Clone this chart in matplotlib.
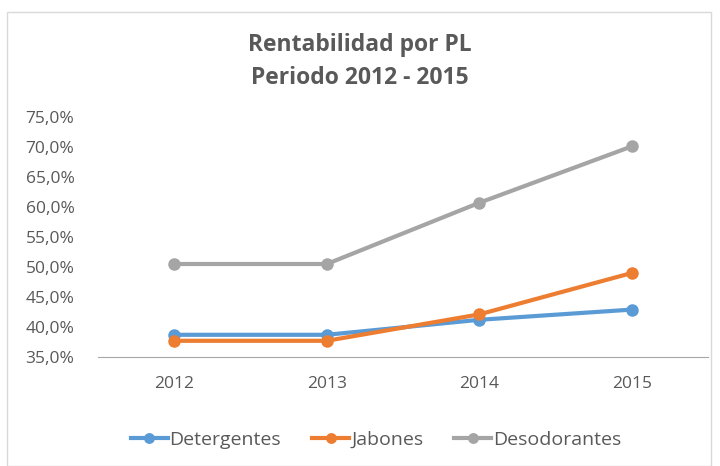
import matplotlib.pyplot as plt
from matplotlib.patches import Rectangle
from matplotlib.ticker import FuncFormatter

years = ['2012', '2013', '2014', '2015']
detergentes = [38.7, 38.7, 41.2, 42.9]
jabones = [37.7, 37.7, 42.1, 49.0]
desodorantes = [50.5, 50.5, 60.7, 70.1]

txt = '#595959'
plt.rcParams['font.family'] = ['Open Sans', 'DejaVu Sans']

fig = plt.figure(figsize=(7.2, 4.66), dpi=100)
fig.patches.append(Rectangle((7 / 720, 0), 704 / 720, 1 - 12 / 466, transform=fig.transFigure,
                             fill=False, edgecolor='#d9d9d9', linewidth=1))
ax = fig.add_axes([98 / 720, 1 - 357 / 466, 610 / 720, 240 / 466])

x = range(len(years))
ax.plot(x, detergentes, color='#5B9BD5', lw=3, marker='o', ms=8, label='Detergentes')
ax.plot(x, jabones, color='#ED7D31', lw=3, marker='o', ms=8, label='Jabones')
ax.plot(x, desodorantes, color='#A5A5A5', lw=3, marker='o', ms=8, label='Desodorantes')

ax.set_xlim(-0.5, 3.5)
ax.set_ylim(35, 75)
ax.set_yticks(range(35, 80, 5))
ax.yaxis.set_major_formatter(FuncFormatter(lambda v, p: f'{v:.1f}%'.replace('.', ',')))
ax.set_xticks(list(x))
ax.set_xticklabels(years)
for s in ['top', 'right', 'left']:
    ax.spines[s].set_visible(False)
ax.spines['bottom'].set_color('#a6a6a6')
ax.tick_params(axis='both', length=0, colors=txt, labelsize=12.5)
ax.tick_params(axis='y', pad=17)
ax.tick_params(axis='x', pad=14)

fig.text(0.5, 1 - 45 / 466, 'Rentabilidad por PL', ha='center', va='center',
         fontsize=16.5, fontweight='bold', color=txt)
fig.text(0.5, 1 - 78 / 466, 'Periodo 2012 - 2015', ha='center', va='center',
         fontsize=16.5, fontweight='bold', color=txt)

leg = fig.legend(loc='center', bbox_to_anchor=(376 / 720, 1 - 440 / 466), ncol=3, frameon=False,
                 fontsize=14, handlelength=1.9, columnspacing=1.6, handletextpad=0.1,
                 markerscale=0.85)
for t in leg.get_texts():
    t.set_color(txt)

fig.savefig('out.png', dpi=100)
